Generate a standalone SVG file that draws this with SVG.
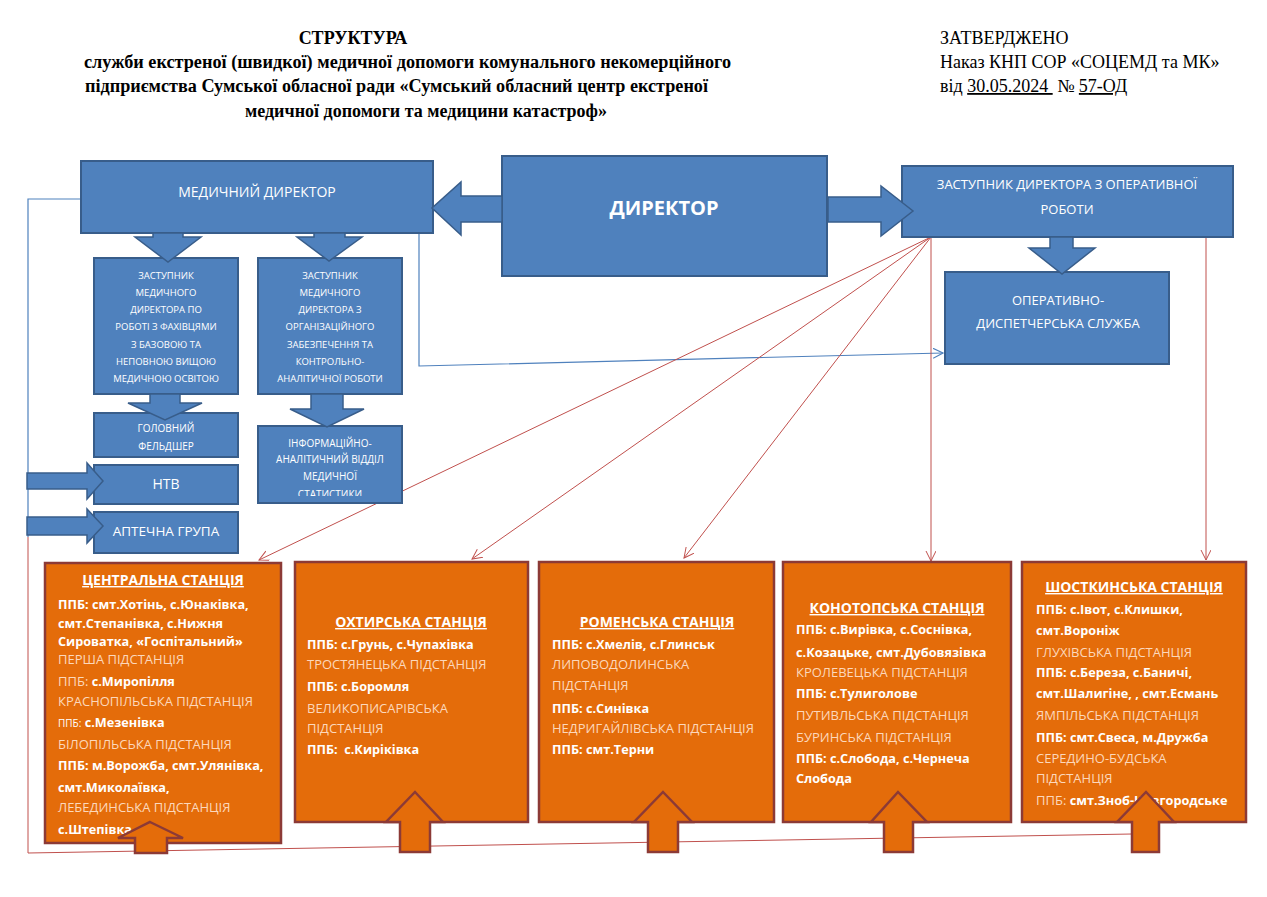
<svg xmlns="http://www.w3.org/2000/svg" width="1267" height="897" viewBox="0 0 1267 897">
<style>
.bx{fill:#4f81bd;stroke:#385d8a;stroke-width:2}
.ba{fill:#4f81bd;stroke:#385d8a;stroke-width:1.5}
.ob{fill:#e46c0a;stroke:#8c3a36;stroke-width:2.5}
.oa{fill:#e46c0a;stroke:#8c3a36;stroke-width:2.5}
.wt{font-family:"Open Sans","Noto Sans",sans-serif;fill:#ffffff;text-anchor:middle}
.st{font-family:"Open Sans","Noto Sans",sans-serif;font-size:13px;fill:#fcd8bc}
.sb{font-weight:bold;fill:#ffffff;font-size:12.7px}
.tt{font-family:"Open Sans","Noto Sans",sans-serif;font-size:14px;font-weight:bold;fill:#ffffff;text-anchor:middle;text-decoration:underline}
.hd{font-family:"Liberation Serif","Times New Roman",serif;font-size:18px;fill:#000000}
.rl{fill:none;stroke:#c0504d;stroke-width:1}
.bl{fill:none;stroke:#4f81bd;stroke-width:1.2}
</style>
<defs>
<marker id="ra" markerWidth="12" markerHeight="12" refX="10" refY="5" orient="auto" markerUnits="userSpaceOnUse">
<path d="M0,0 L10,5 L0,10" fill="none" stroke="#c0504d" stroke-width="1"/>
</marker>
<marker id="baa" markerWidth="12" markerHeight="12" refX="10" refY="5" orient="auto" markerUnits="userSpaceOnUse">
<path d="M0,0 L10,5 L0,10" fill="none" stroke="#4f81bd" stroke-width="1.2"/>
</marker>
<clipPath id="clipInfo"><rect x="258" y="426" width="144" height="70"/></clipPath>
</defs>
<rect width="1267" height="897" fill="#ffffff"/>

<g id="header">
<text class="hd" x="353" y="44" font-size="17" font-weight="bold" text-anchor="middle">СТРУКТУРА</text>
<text class="hd" x="84" y="68" font-size="17" font-weight="bold" textLength="647" lengthAdjust="spacingAndGlyphs">служби екстреної (швидкої) медичної допомоги комунального некомерційного</text>
<text class="hd" x="85" y="92" font-size="17" font-weight="bold" textLength="623" lengthAdjust="spacingAndGlyphs">підприємства Сумської обласної ради «Сумський обласний центр екстреної</text>
<text class="hd" x="245" y="117" font-size="17" font-weight="bold" textLength="362" lengthAdjust="spacingAndGlyphs">медичної допомоги та медицини катастроф»</text>
<text class="hd" x="940" y="44">ЗАТВЕРДЖЕНО</text>
<text class="hd" x="940" y="68">Наказ КНП СОР «СОЦЕМД та МК»</text>
<text class="hd" x="940" y="92" xml:space="preserve">від <tspan text-decoration="underline">30.05.2024 </tspan> № <tspan text-decoration="underline">57-ОД</tspan></text>
</g>

<g id="connectors">
<polyline class="bl" points="81,199 28,199 28,537"/>
<polyline class="rl" points="28,537 28,853 1132,834"/>
<polyline class="bl" points="419,233 419,366 943,353" marker-end="url(#baa)"/>
<line class="rl" x1="931" y1="237" x2="259" y2="560" marker-end="url(#ra)"/>
<line class="rl" x1="931" y1="237" x2="472" y2="559" marker-end="url(#ra)"/>
<line class="rl" x1="931" y1="237" x2="684" y2="558" marker-end="url(#ra)"/>
<line class="rl" x1="931" y1="237" x2="931" y2="561" marker-end="url(#ra)"/>
<line class="rl" x1="1206" y1="237" x2="1206" y2="560" marker-end="url(#ra)"/>
</g>

<g id="director">
<rect class="bx" x="502" y="156" width="325" height="120"/>
<text class="wt" x="664" y="215" font-size="20" font-weight="bold">ДИРЕКТОР</text>
</g>

<g id="med-director">
<rect class="bx" x="81" y="161" width="352" height="72"/>
<text class="wt" x="257" y="197" font-size="14">МЕДИЧНИЙ ДИРЕКТОР</text>
</g>

<g id="deputy-operative">
<rect class="bx" x="902" y="166" width="331" height="71"/>
<text class="wt" x="1067" y="189" font-size="13">ЗАСТУПНИК ДИРЕКТОРА З ОПЕРАТИВНОЇ</text>
<text class="wt" x="1067" y="214" font-size="13">РОБОТИ</text>
</g>

<g id="dispatch">
<rect class="bx" x="945" y="272" width="224" height="92"/>
<text class="wt" x="1058" y="305" font-size="13">ОПЕРАТИВНО-</text>
<text class="wt" x="1058" y="328" font-size="13">ДИСПЕТЧЕРСЬКА СЛУЖБА</text>
</g>

<g id="deputy-med-1">
<rect class="bx" x="94" y="258" width="144" height="136"/>
<g class="wt" font-size="9.5">
<text x="166" y="278.5">ЗАСТУПНИК</text>
<text x="166" y="295.5">МЕДИЧНОГО</text>
<text x="166" y="312.5">ДИРЕКТОРА ПО</text>
<text x="166" y="329.5">РОБОТІ З ФАХІВЦЯМИ</text>
<text x="166" y="347.5">З БАЗОВОЮ ТА</text>
<text x="166" y="364.5">НЕПОВНОЮ ВИЩОЮ</text>
<text x="166" y="381.5">МЕДИЧНОЮ ОСВІТОЮ</text>
</g>
</g>

<g id="deputy-med-2">
<rect class="bx" x="258" y="258" width="144" height="136"/>
<g class="wt" font-size="9.5">
<text x="330" y="278.5">ЗАСТУПНИК</text>
<text x="330" y="295.5">МЕДИЧНОГО</text>
<text x="330" y="312.5">ДИРЕКТОРА З</text>
<text x="330" y="329.5">ОРГАНІЗАЦІЙНОГО</text>
<text x="330" y="347.5">ЗАБЕЗПЕЧЕННЯ ТА</text>
<text x="330" y="364.5">КОНТРОЛЬНО-</text>
<text x="330" y="381.5">АНАЛІТИЧНОЇ РОБОТИ</text>
</g>
</g>

<g id="head-paramedic">
<rect class="bx" x="94" y="413" width="144" height="44"/>
<text class="wt" x="166" y="431.5" font-size="10">ГОЛОВНИЙ</text>
<text class="wt" x="166" y="449.5" font-size="10">ФЕЛЬДШЕР</text>
</g>

<g id="info-dept">
<rect class="bx" x="258" y="426" width="144" height="77"/>
<g class="wt" font-size="10" clip-path="url(#clipInfo)">
<text x="330" y="446.5">ІНФОРМАЦІЙНО-</text>
<text x="330" y="463">АНАЛІТИЧНИЙ ВІДДІЛ</text>
<text x="330" y="480">МЕДИЧНОЇ</text>
<text x="330" y="498">СТАТИСТИКИ</text>
</g>
</g>

<g id="ntv">
<rect class="bx" x="94" y="465" width="144" height="39"/>
<text class="wt" x="166" y="489" font-size="14">НТВ</text>
</g>

<g id="pharmacy">
<rect class="bx" x="94" y="512" width="144" height="41"/>
<text class="wt" x="166" y="536" font-size="13.5">АПТЕЧНА ГРУПА</text>
</g>

<g id="blue-arrows">
<polygon class="ba" points="502,196 461,196 461,182 432,208 461,235 461,222 502,222"/>
<polygon class="ba" points="828,197 881,197 881,186 913,211 881,236 881,222 828,222"/>
<polygon class="ba" points="1050,237 1073,237 1073,248 1095,248 1062,274 1029,248 1050,248"/>
<polygon class="ba" points="153,233 183,233 183,237 201,237 168,262 135,237 153,237"/>
<polygon class="ba" points="314,233 345,233 345,237 362,237 329,261 297,237 314,237"/>
<polygon class="ba" points="150,394 180,394 180,403 202,403 165,420 128,403 150,403"/>
<polygon class="ba" points="311,394 343,394 343,409 364,409 327,427 290,409 311,409"/>
<polygon class="ba" points="27,473 87,473 87,463 103,481 87,499 87,489 27,489"/>
<polygon class="ba" points="27,517 87,517 87,509 103,526 87,543 87,535 27,535"/>
</g>

<g id="station-central">
<rect class="ob" x="45" y="563" width="236" height="280"/>
<text class="tt" x="163" y="585">ЦЕНТРАЛЬНА СТАНЦІЯ</text>
<g class="st">
<text x="58" y="608.5" class="sb">ППБ: смт.Хотінь, с.Юнаківка,</text>
<text x="58" y="627.5" class="sb">смт.Степанівка, с.Нижня</text>
<text x="58" y="645.5" class="sb">Сироватка, «Госпітальний»</text>
<text x="58" y="663.5">ПЕРША ПІДСТАНЦІЯ</text>
<text x="58" y="685.5">ППБ: <tspan class="sb">с.Миропілля</tspan></text>
<text x="58" y="705.5">КРАСНОПІЛЬСЬКА ПІДСТАНЦІЯ</text>
<text x="58" y="726.5"><tspan font-size="10" fill="#ffffff">ППБ:</tspan> <tspan class="sb">с.Мезенівка</tspan></text>
<text x="58" y="748.5">БІЛОПІЛЬСЬКА ПІДСТАНЦІЯ</text>
<text x="58" y="769.5" class="sb">ППБ: м.Ворожба, смт.Улянівка,</text>
<text x="58" y="791.5" class="sb">смт.Миколаївка,</text>
<text x="58" y="811.5">ЛЕБЕДИНСЬКА ПІДСТАНЦІЯ</text>
<text x="58" y="833.5" class="sb">с.Штепівка</text>
</g>
<polygon class="oa" points="150,822 183,838 167,838 167,853 135,853 135,838 118,838"/>
</g>

<g id="station-okhtyrka">
<rect class="ob" x="295" y="562" width="233" height="260"/>
<text class="tt" x="411" y="627">ОХТИРСЬКА СТАНЦІЯ</text>
<g class="st">
<text x="307" y="648.5" class="sb">ППБ: с.Грунь, с.Чупахівка</text>
<text x="307" y="668.5">ТРОСТЯНЕЦЬКА ПІДСТАНЦІЯ</text>
<text x="307" y="690.5" class="sb">ППБ: с.Боромля</text>
<text x="307" y="712.5">ВЕЛИКОПИСАРІВСЬКА</text>
<text x="307" y="732.5">ПІДСТАНЦІЯ</text>
<text x="307" y="753.5" class="sb" xml:space="preserve">ППБ:  с.Киріківка</text>
</g>
<polygon class="oa" points="415,792 443,822 430,822 430,852 400,852 400,822 386,822"/>
</g>

<g id="station-romny">
<rect class="ob" x="539" y="562" width="235" height="260"/>
<text class="tt" x="657" y="627">РОМЕНСЬКА СТАНЦІЯ</text>
<g class="st">
<text x="552" y="648.5" class="sb">ППБ: с.Хмелів, с.Глинськ</text>
<text x="552" y="668.5">ЛИПОВОДОЛИНСЬКА</text>
<text x="552" y="689.5">ПІДСТАНЦІЯ</text>
<text x="552" y="712.5" class="sb">ППБ: с.Синівка</text>
<text x="552" y="732.5">НЕДРИГАЙЛІВСЬКА ПІДСТАНЦІЯ</text>
<text x="552" y="753.5" class="sb">ППБ: смт.Терни</text>
</g>
<polygon class="oa" points="663,792 692,822 678,822 678,852 648,852 648,822 634,822"/>
</g>

<g id="station-konotop">
<rect class="ob" x="783" y="562" width="228" height="260"/>
<text class="tt" x="897" y="613">КОНОТОПСЬКА СТАНЦІЯ</text>
<g class="st">
<text x="796" y="633.5" class="sb">ППБ: с.Вирівка, с.Соснівка,</text>
<text x="796" y="656.5" class="sb">с.Козацьке, смт.Дубовязівка</text>
<text x="796" y="676.5">КРОЛЕВЕЦЬКА ПІДСТАНЦІЯ</text>
<text x="796" y="697.5" class="sb">ППБ: с.Тулиголове</text>
<text x="796" y="719.5">ПУТИВЛЬСЬКА ПІДСТАНЦІЯ</text>
<text x="796" y="741.5">БУРИНСЬКА ПІДСТАНЦІЯ</text>
<text x="796" y="762.5" class="sb">ППБ: с.Слобода, с.Чернеча</text>
<text x="796" y="782.5" class="sb">Слобода</text>
</g>
<polygon class="oa" points="898,792 927,822 913,822 913,852 884,852 884,822 871,822"/>
</g>

<g id="station-shostka">
<rect class="ob" x="1022" y="562" width="224" height="260"/>
<text class="tt" x="1134" y="592">ШОСТКИНСЬКА СТАНЦІЯ</text>
<g class="st">
<text x="1036" y="613.5" class="sb">ППБ: с.Івот, с.Клишки,</text>
<text x="1036" y="634.5" class="sb">смт.Вороніж</text>
<text x="1036" y="656.5">ГЛУХІВСЬКА ПІДСТАНЦІЯ</text>
<text x="1036" y="676.5" class="sb">ППБ: с.Береза, с.Баничі,</text>
<text x="1036" y="697.5" class="sb">смт.Шалигіне, , смт.Есмань</text>
<text x="1036" y="719.5">ЯМПІЛЬСЬКА ПІДСТАНЦІЯ</text>
<text x="1036" y="741.5" class="sb">ППБ: смт.Свеса, м.Дружба</text>
<text x="1036" y="762.5">СЕРЕДИНО-БУДСЬКА</text>
<text x="1036" y="782.5">ПІДСТАНЦІЯ</text>
<text x="1036" y="804.5">ППБ: <tspan class="sb">смт.Зноб-Новгородське</tspan></text>
</g>
<polygon class="oa" points="1146,792 1174,822 1159,822 1159,852 1132,852 1132,822 1117,822"/>
</g>
</svg>
